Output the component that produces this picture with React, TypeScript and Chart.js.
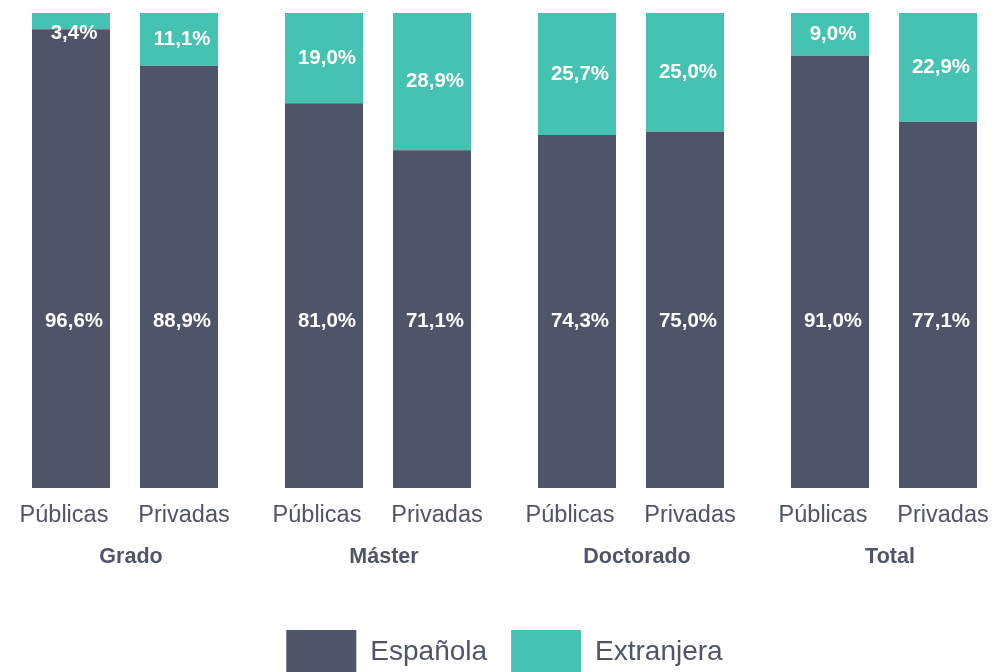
import React, { useEffect, useRef } from "react";
import { Chart, registerables } from "chart.js";

Chart.register(...registerables);

const groups = ["Grado", "Máster", "Doctorado", "Total"];
const types = ["Públicas", "Privadas"];
const seriesNames = ["Española", "Extranjera"];

const espanolaPublicas = [96.6, 81.0, 74.3, 91.0];
const extranjeraPublicas = [3.4, 19.0, 25.7, 9.0];
const espanolaPrivadas = [88.9, 71.1, 75.0, 77.1];
const extranjeraPrivadas = [11.1, 28.9, 25.0, 22.9];

const DARK = "#4F5469";
const TEAL = "#46C2B2";
const TEXT = "#4F5469";
const FONT = "'Liberation Sans', Arial, Helvetica, sans-serif";

const fmt = (v: number) => v.toFixed(1).replace(".", ",") + "%";

const labelsPlugin = {
  id: "customLabels",
  afterDatasetsDraw(chart: any) {
    const { ctx, chartArea, scales } = chart;
    const x = scales.x;
    const y = scales.y;
    ctx.save();
    for (let d = 0; d < chart.data.datasets.length; d++) {
      const meta = chart.getDatasetMeta(d);
      const ds = chart.data.datasets[d];
      meta.data.forEach((el: any, i: number) => {
        const v = ds.data[i];
        const props = el.getProps(["x", "y", "base"], true);
        let ly: number;
        if (ds.seriesIndex === 0) {
          ly = y.getPixelForValue(35.0);
        } else {
          ly = Math.max((props.y + props.base) / 2, props.y + 20);
        }
        ctx.fillStyle = "#FFFFFF";
        ctx.font = `bold 20.5px ${FONT}`;
        ctx.textAlign = "center";
        ctx.textBaseline = "middle";
        ctx.fillText(fmt(v), props.x + 3, ly);
      });
    }
    groups.forEach((g, i) => {
      const cx = x.getPixelForValue(i);
      ctx.fillStyle = TEXT;
      ctx.textAlign = "center";
      ctx.textBaseline = "middle";
      ctx.font = `23.5px ${FONT}`;
      ctx.fillText(types[0], cx - 61, chartArea.bottom + 28);
      ctx.fillText(types[1], cx + 59, chartArea.bottom + 28);
      ctx.font = `bold 21.5px ${FONT}`;
      ctx.fillText(g, cx + 6, chartArea.bottom + 69);
    });
    ctx.restore();
  },
};

export default function App() {
  const ref = useRef<HTMLCanvasElement | null>(null);
  useEffect(() => {
    if (!ref.current) return;
    const chart = new Chart(ref.current, {
      type: "bar",
      data: {
        labels: groups,
        datasets: [
          { label: seriesNames[0], data: espanolaPublicas, backgroundColor: DARK, stack: "pub", clip: false, seriesIndex: 0 } as any,
          { label: seriesNames[1], data: extranjeraPublicas, backgroundColor: TEAL, stack: "pub", clip: false, seriesIndex: 1 } as any,
          { label: seriesNames[0], data: espanolaPrivadas, backgroundColor: DARK, stack: "priv", clip: false, seriesIndex: 0 } as any,
          { label: seriesNames[1], data: extranjeraPrivadas, backgroundColor: TEAL, stack: "priv", clip: false, seriesIndex: 1 } as any,
        ],
      },
      options: {
        animation: false,
        responsive: true,
        maintainAspectRatio: false,
        categoryPercentage: 0.8538,
        barPercentage: 0.7222,
        borderWidth: 0,
        layout: { padding: { top: 5, left: 117, right: 104, bottom: -12 } },
        scales: {
          x: {
            stacked: true,
            offset: false,
            grid: { display: false },
            border: { display: false },
            ticks: { display: false },
            afterFit: (scale: any) => {
              scale.height = 118;
            },
          },
          y: {
            stacked: true,
            display: false,
            min: 0,
            max: 100,
          },
        },
        plugins: {
          tooltip: { enabled: false },
          legend: {
            position: "bottom",
            labels: {
              boxWidth: 70,
              boxHeight: 44,
              padding: 24,
              color: TEXT,
              font: { family: FONT, size: 28 },
              filter: (item: any) => item.datasetIndex < 2,
            },
          },
        },
      } as any,
      plugins: [labelsPlugin],
    });
    return () => chart.destroy();
  }, []);
  return (
    <div style={{ width: "100%", height: 664, position: "relative" }}>
      <canvas ref={ref} />
    </div>
  );
}
